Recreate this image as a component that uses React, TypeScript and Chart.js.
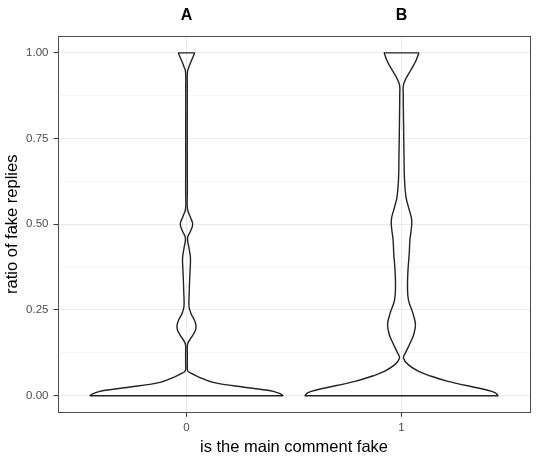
import React, { useEffect, useRef } from 'react';
import { Chart, registerables } from 'chart.js';

Chart.register(...registerables);

// ---- data ----
const categories = [0, 1];
const categoryLabels = ['0', '1'];
const panelTitles = ['A', 'B'];
const yMajorTicks = [0, 0.25, 0.5, 0.75, 1];
const yMinorTicks = [0.125, 0.375, 0.625, 0.875];
const yTickLabels = ['0.00', '0.25', '0.50', '0.75', '1.00'];
const xTitle = 'is the main comment fake';
const yTitle = 'ratio of fake replies';

// violin A (main comment not fake): ratio value and relative density (max = 1)
const ratioA = [0, 0.007, 0.015, 0.024, 0.039, 0.053, 0.065, 0.073, 0.09, 0.12, 0.15, 0.17, 0.19, 0.205, 0.22, 0.24, 0.26, 0.3, 0.35, 0.4, 0.43, 0.46, 0.48, 0.5, 0.52, 0.545, 0.6, 0.7, 0.8, 0.9, 0.945, 0.96, 0.974, 0.99, 1.0];
const densityA = [1.0, 0.959, 0.856, 0.616, 0.274, 0.138, 0.051, 0.012, 0.009, 0.009, 0.011, 0.05, 0.092, 0.098, 0.082, 0.046, 0.026, 0.028, 0.034, 0.041, 0.026, 0.011, 0.041, 0.064, 0.041, 0.01, 0.009, 0.008, 0.008, 0.008, 0.01, 0.027, 0.046, 0.07, 0.085];

// violin B (main comment fake)
const ratioB = [0, 0.0087, 0.0165, 0.0427, 0.0574, 0.07, 0.09, 0.11, 0.125, 0.155, 0.18, 0.208, 0.24, 0.279, 0.318, 0.366, 0.415, 0.454, 0.51, 0.55, 0.58, 0.63, 0.7, 0.8, 0.88, 0.906, 0.925, 0.95, 0.974, 1.0];
const densityB = [1.0, 0.966, 0.88, 0.47, 0.3, 0.185, 0.072, 0.02, 0.041, 0.092, 0.128, 0.144, 0.118, 0.072, 0.062, 0.067, 0.08, 0.087, 0.106, 0.072, 0.046, 0.031, 0.026, 0.021, 0.018, 0.02, 0.046, 0.097, 0.144, 0.18];

const violinRatios = [ratioA, ratioB];
const violinDensities = [densityA, densityB];

// ---- styles ----
const VIOLIN_HALF_WIDTH = 0.45;
const LINE_COLOR = '#222222';
const FONT = '"Liberation Sans", Arial, Helvetica, sans-serif';

function violinDatasets(center: number, ratios: number[], densities: number[]) {
  const right = ratios.map((r, i) => ({ x: center + densities[i] * VIOLIN_HALF_WIDTH, y: r }));
  const left = ratios.map((r, i) => ({ x: center - densities[i] * VIOLIN_HALF_WIDTH, y: r }));
  const last = ratios.length - 1;
  const common = {
    showLine: true,
    pointRadius: 0,
    pointHoverRadius: 0,
    borderColor: LINE_COLOR,
    borderWidth: 1.4,
    fill: false,
  };
  return [
    { ...common, data: right, tension: 0.4 },
    { ...common, data: left, tension: 0.4 },
    { ...common, data: [left[0], right[0]], tension: 0 },
    { ...common, data: [left[last], right[last]], tension: 0 },
  ];
}

const isMajor = (v: number) => yMajorTicks.some((m) => Math.abs(m - v) < 1e-9);

export default function App() {
  const canvasRef = useRef<HTMLCanvasElement | null>(null);

  useEffect(() => {
    const canvas = canvasRef.current;
    if (!canvas) return;

    const datasets: any[] = [];
    categories.forEach((c, i) => {
      datasets.push(...violinDatasets(c, violinRatios[i], violinDensities[i]));
    });

    const decor = {
      id: 'panelDecor',
      afterDraw(chart: any) {
        const { ctx, chartArea } = chart;
        const xs = chart.scales.x;
        ctx.save();
        ctx.strokeStyle = '#4D4D4D';
        ctx.lineWidth = 1;
        ctx.strokeRect(
          Math.round(chartArea.left) + 0.5,
          Math.round(chartArea.top) + 0.5,
          Math.round(chartArea.right - chartArea.left) - 1,
          Math.round(chartArea.bottom - chartArea.top) - 1
        );
        ctx.fillStyle = '#000000';
        ctx.font = `bold 16px ${FONT}`;
        ctx.textAlign = 'center';
        ctx.textBaseline = 'alphabetic';
        categories.forEach((c, i) => {
          ctx.fillText(panelTitles[i], xs.getPixelForValue(c), 19.8);
        });
        ctx.restore();
      },
    };

    const chart = new Chart(canvas, {
      type: 'scatter',
      data: { datasets },
      options: {
        animation: false,
        responsive: false,
        maintainAspectRatio: false,
        layout: { padding: { left: 0, top: 35.7, right: 5.5, bottom: 0 } },
        plugins: {
          legend: { display: false },
          tooltip: { enabled: false },
        },
        scales: {
          x: {
            type: 'linear',
            min: -0.6,
            max: 1.6,
            afterBuildTicks: (s: any) => {
              s.ticks = categories.map((v) => ({ value: v }));
            },
            afterFit: (s: any) => {
              s.height = 47.15;
            },
            ticks: {
              autoSkip: false,
              maxRotation: 0,
              padding: 4,
              color: '#4D4D4D',
              font: { family: FONT, size: 11.5 },
              callback: (v: any) => {
                const i = categories.indexOf(Number(v));
                return i >= 0 ? categoryLabels[i] : '';
              },
            },
            grid: {
              color: '#EBEBEB',
              lineWidth: 1.1,
              tickColor: '#333333',
              tickWidth: 1,
              tickLength: 4,
            },
            border: { display: false },
            title: {
              display: true,
              text: xTitle,
              color: '#000000',
              font: { family: FONT, size: 16.5 },
              padding: { top: 0, bottom: 2.5 },
            },
          },
          y: {
            type: 'linear',
            min: -0.05,
            max: 1.05,
            afterBuildTicks: (s: any) => {
              s.ticks = [...yMajorTicks, ...yMinorTicks]
                .sort((a, b) => a - b)
                .map((v) => ({ value: v }));
            },
            afterFit: (s: any) => {
              s.width = 57.5;
            },
            ticks: {
              autoSkip: false,
              padding: 5,
              color: '#4D4D4D',
              font: { family: FONT, size: 11.5 },
              callback: (v: any) => {
                const i = yMajorTicks.findIndex((m) => Math.abs(m - Number(v)) < 1e-9);
                return i >= 0 ? yTickLabels[i] : '';
              },
            },
            grid: {
              color: '#EBEBEB',
              lineWidth: (ctx: any) => (ctx.tick && isMajor(ctx.tick.value) ? 1.1 : 0.55),
              tickColor: (ctx: any) => (ctx.tick && isMajor(ctx.tick.value) ? '#333333' : 'rgba(0,0,0,0)'),
              tickWidth: 1,
              tickLength: 4,
            },
            border: { display: false },
            title: {
              display: true,
              text: yTitle,
              color: '#000000',
              font: { family: FONT, size: 16.5 },
              padding: { top: 2.5, bottom: 0 },
            },
          },
        },
      },
      plugins: [decor],
    });

    return () => {
      chart.destroy();
    };
  }, []);

  return (
    <div style={{ position: 'fixed', left: 0, top: 0, width: 536, height: 460, background: '#ffffff' }}>
      <canvas ref={canvasRef} width={536} height={460} style={{ display: 'block' }} />
    </div>
  );
}
